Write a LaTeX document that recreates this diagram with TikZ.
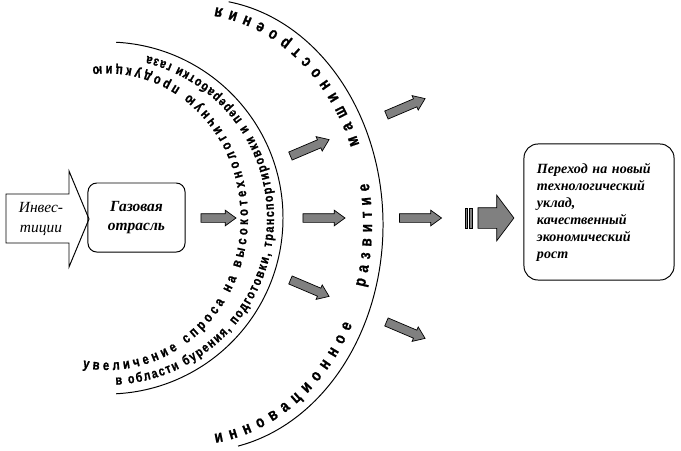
\documentclass[tikz,border=0pt]{standalone}
\usepackage{fontspec}
\setmainfont{Liberation Serif}
\newfontfamily\arcfont[UprightFont={* Bold}, FakeStretch=0.8, FakeBold=1]{Liberation Sans}
\usetikzlibrary{shapes.arrows,decorations.text}
\newcommand{\ctfi}{\arcfont\fontsize{10}{12}\selectfont}
\newcommand{\ctfj}{\arcfont\fontsize{9.5}{12}\selectfont}
\newcommand{\ctfo}{\arcfont\fontsize{12}{14}\selectfont}
\tikzset{
  rbox/.style={draw, line width=0.7pt, font=\bfseries\itshape, align=center, inner sep=2pt},
  garrow/.style={single arrow, draw, line width=0.5pt, fill=black!50, inner xsep=0pt, inner ysep=0.1cm,
                 minimum height=1.05cm, single arrow head extend=0.0875cm, single arrow tip angle=72},
  ctext/.style={decorate, decoration={text along path, text align=fit to path, raise=-1mm, text={#1}}}
}

\begin{document}
\begin{tikzpicture}[x=0.025cm, y=0.025cm, line width=0.7pt]
\useasboundingbox (0,0) rectangle (681,450);
\coordinate (ic) at (107,232);
\coordinate (oc) at (200,225);
\coordinate (tc) at (190,225);
\draw (6,207) -- (69,207) -- (69,183) -- (89,231) -- (69,279) -- (69,256) -- (6,256) -- cycle;
\node[font=\itshape\fontsize{11}{14}\selectfont, align=center] (inv) at (41,231) {Инвес-\\тиции};
\node[rbox, rounded corners=0.22cm, minimum width=2.425cm, minimum height=1.725cm,
      font=\bfseries\itshape\fontsize{11}{13}\selectfont] (gas) at (136.5,232.5) {Газовая\\отрасль};
\node[rbox, rounded corners=0.35cm, minimum width=3.75cm, minimum height=3.4cm, text width=3.1cm, align=left,
      font=\bfseries\itshape\fontsize{10}{12.1}\selectfont] (goal) at (599,238)
  {Переход на новый\\технологический\\уклад,\\качественный\\экономический\\рост};
\node[garrow, minimum height=0.875cm] (a1) at (215.5,232) {};
\node[garrow] (a2) at (321,232) {};
\node[garrow, rotate=23] (a3) at (307,301) {};
\node[garrow, rotate=-23] (a4) at (307,163) {};
\node[garrow] (a5) at (417.5,232) {};
\node[garrow, rotate=23] (a6) at (403,342) {};
\node[garrow, rotate=-23] (a7) at (403,121) {};
\node[garrow, inner ysep=0.25cm, minimum height=0.9cm, single arrow head extend=0.3125cm,
      single arrow tip angle=106] (big) at (492,232) {};
\draw[fill=black!50, line width=0.5pt] (465,222) rectangle (467,242) (469,222) rectangle (472,242);
\draw ([shift={(87:176)}]ic) arc[start angle=87, end angle=-87, radius=176];
\draw ([shift={(81:183 and 226)}]oc) arc[start angle=81, end angle=-78, x radius=183, y radius=226];
\path[ctext={|\ctfi|увеличение спроса на высокотехнологичную продукцию}]
  ([shift={(-100:137 and 148)}]ic) arc[start angle=-100, end angle=96, x radius=137, y radius=148];
\path[ctext={|\ctfj|в области бурения, подготовки, транспортировки и переработки газа}]
  ([shift={(-87:163)}]ic) arc[start angle=-87, end angle=76, radius=163];
\path[ctext={|\ctfo|инновационное}]
  ([shift={(-82:178 and 216)}]tc) arc[start angle=-82, end angle=-27, x radius=178, y radius=216];
\path[ctext={|\ctfo|развитие}]
  ([shift={(-16.5:178 and 216)}]tc) arc[start angle=-16.5, end angle=11, x radius=178, y radius=216];
\path[ctext={|\ctfo|машиностроения}]
  ([shift={(21.5:178 and 216)}]tc) arc[start angle=21.5, end angle=82, x radius=178, y radius=216];
\end{tikzpicture}
\end{document}
